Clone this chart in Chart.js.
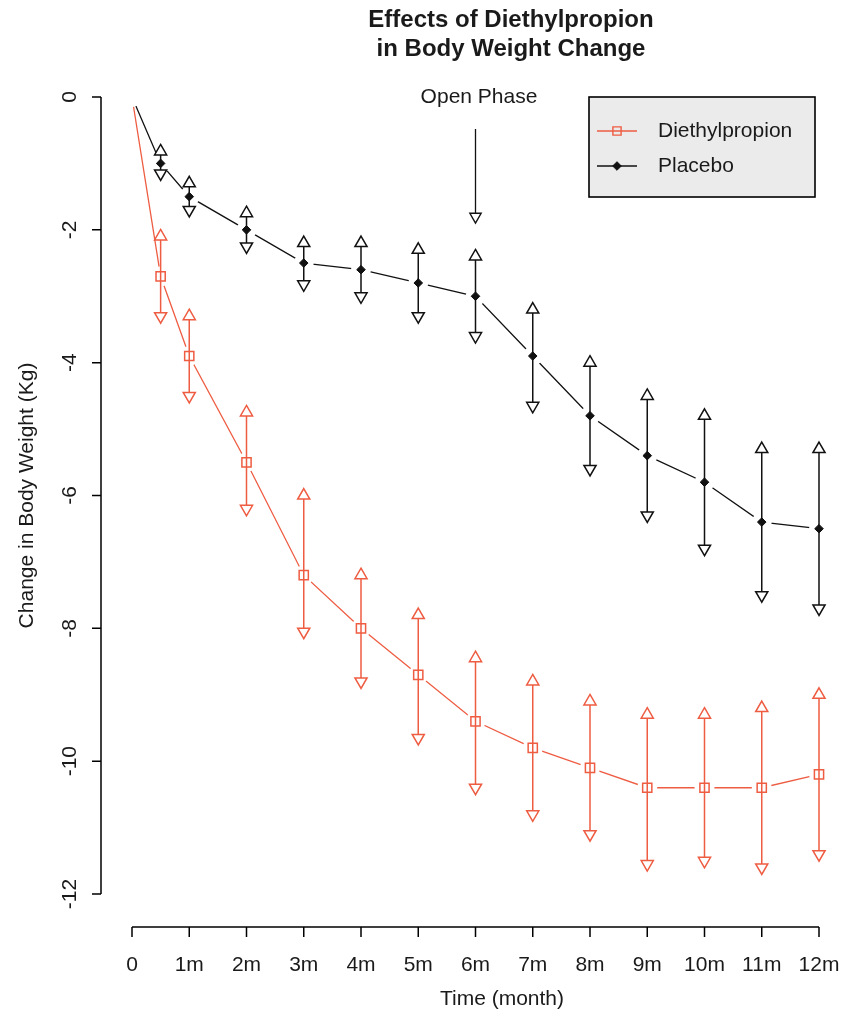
<!DOCTYPE html>
<html>
<head>
<meta charset="utf-8">
<script src="https://cdn.jsdelivr.net/npm/chart.js@4.4.1/dist/chart.umd.min.js"></script>
<style>
  html, body { margin: 0; padding: 0; background: #fff; }
  #wrap { width: 853px; height: 1013px; }
</style>
</head>
<body>
<div id="wrap"><canvas id="peso" width="853" height="1013"></canvas></div>
<script>
// datos (meses / kg)
const months = [0, 0.5, 1, 2, 3, 4, 5, 6, 7, 8, 9, 10, 11, 12];
const barMonths = [0.5, 1, 2, 3, 4, 5, 6, 7, 8, 9, 10, 11, 12];

const dietMean = [0, -2.7, -3.9, -5.5, -7.2, -8.0, -8.7, -9.4, -9.8, -10.1, -10.4, -10.4, -10.4, -10.2];
const dietHigh = [-2.1, -3.3, -4.75, -6.0, -7.2, -7.8, -8.45, -8.8, -9.1, -9.3, -9.3, -9.2, -9.0];
const dietLow = [-3.3, -4.5, -6.2, -8.05, -8.8, -9.65, -10.4, -10.8, -11.1, -11.55, -11.5, -11.6, -11.4];

const placMean = [0, -1.0, -1.5, -2.0, -2.5, -2.6, -2.8, -3.0, -3.9, -4.8, -5.4, -5.8, -6.4, -6.5];
const placHigh = [-0.82, -1.3, -1.75, -2.2, -2.2, -2.3, -2.4, -3.2, -4.0, -4.5, -4.8, -5.3, -5.3];
const placLow = [-1.15, -1.7, -2.25, -2.82, -3.0, -3.3, -3.6, -4.65, -5.6, -6.3, -6.8, -7.5, -7.7];

const openPhaseX = 6;
const openPhaseY = [-0.48, -1.8];

const xTicks = [0, 1, 2, 3, 4, 5, 6, 7, 8, 9, 10, 11, 12];
const xTickLabels = ["0", "1m", "2m", "3m", "4m", "5m", "6m", "7m", "8m", "9m", "10m", "11m", "12m"];
const yTicks = [0, -2, -4, -6, -8, -10, -12];
const yTickLabels = ["0", "-2", "-4", "-6", "-8", "-10", "-12"];

const ROJO = "#EE5C42";
const NEGRO = "#111111";
const FUENTE = "'Liberation Sans', Arial, Helvetica, sans-serif";

const pts = (xs, ys) => xs.map((x, i) => ({ x: x, y: ys[i] }));
// segmentos verticales separados por null
const barras = (xs, hi, lo) => xs.flatMap((x, i) => [{ x: x, y: hi[i] }, { x: x, y: lo[i] }, { x: x, y: null }]);

function serie(nombre, color, mean, hi, lo, marcador) {
  return [
    // linea
    { label: nombre, data: pts(months, mean), showLine: true, borderColor: color, borderWidth: 1.3, pointRadius: 0, order: 10 },
    // hueco blanco alrededor de cada punto (tipo "b" de R)
    { label: nombre + "-hueco", data: pts(months, mean), showLine: false, pointRadius: 10, pointBorderWidth: 0,
      pointBackgroundColor: "#ffffff", pointBorderColor: "#ffffff", order: 8 },
    // barras de error
    { label: nombre + "-barras", data: barras(barMonths, hi, lo), showLine: true, spanGaps: false,
      borderColor: color, borderWidth: 1.5, pointRadius: 0, order: 6 },
    // triangulos arriba
    { label: nombre + "-alto", data: pts(barMonths, hi), showLine: false, pointStyle: "triangle", pointRadius: 7,
      pointBorderWidth: 1.5, pointBorderColor: color, pointBackgroundColor: "#ffffff", order: 4 },
    // triangulos abajo
    { label: nombre + "-bajo", data: pts(barMonths, lo), showLine: false, pointStyle: "triangle", rotation: 180, pointRadius: 7,
      pointBorderWidth: 1.5, pointBorderColor: color, pointBackgroundColor: "#ffffff", order: 4 },
    // marcadores
    { label: nombre + "-marca", data: pts(barMonths, mean.slice(1)), showLine: false,
      pointStyle: marcador.estilo, pointRadius: marcador.radio, pointBorderWidth: marcador.borde,
      pointBorderColor: color, pointBackgroundColor: marcador.relleno, order: 2 },
  ];
}

const datasets = [
  ...serie("Diethylpropion", ROJO, dietMean, dietHigh, dietLow, { estilo: "rect", radio: 6.5, borde: 1.5, relleno: "rgba(0,0,0,0)" }),
  ...serie("Placebo", NEGRO, placMean, placHigh, placLow, { estilo: "rectRot", radio: 4.3, borde: 1, relleno: NEGRO }),
  // flecha "Open Phase"
  { label: "open", data: [{ x: openPhaseX, y: openPhaseY[0] }, { x: openPhaseX, y: openPhaseY[1] }], showLine: true,
    borderColor: NEGRO, borderWidth: 1.3, pointStyle: "triangle", rotation: 180, pointRadius: [0, 6.5],
    pointBorderWidth: 1.4, pointBorderColor: NEGRO, pointBackgroundColor: "#ffffff", order: 4 },
];
datasets.forEach(d => { d.clip = false; d.type = "line"; });

const ejes = {
  id: "ejes",
  afterDraw(chart) {
    const ctx = chart.ctx;
    const xs = chart.scales.x, ys = chart.scales.y;
    ctx.save();
    ctx.strokeStyle = "#000";
    ctx.fillStyle = "#1a1a1a";
    ctx.lineWidth = 1.5;

    // eje y
    const ax = 101;
    ctx.beginPath();
    ctx.moveTo(ax, ys.getPixelForValue(yTicks[0]));
    ctx.lineTo(ax, ys.getPixelForValue(yTicks[yTicks.length - 1]));
    yTicks.forEach(v => {
      const p = ys.getPixelForValue(v);
      ctx.moveTo(ax, p);
      ctx.lineTo(ax - 9, p);
    });
    ctx.stroke();
    ctx.font = "21px " + FUENTE;
    ctx.textAlign = "center";
    ctx.textBaseline = "middle";
    yTicks.forEach((v, i) => {
      ctx.save();
      ctx.translate(70, ys.getPixelForValue(v));
      ctx.rotate(-Math.PI / 2);
      ctx.fillText(yTickLabels[i], 0, 0);
      ctx.restore();
    });

    // eje x
    const ay = 927;
    ctx.beginPath();
    ctx.moveTo(xs.getPixelForValue(xTicks[0]), ay);
    ctx.lineTo(xs.getPixelForValue(xTicks[xTicks.length - 1]), ay);
    xTicks.forEach(v => {
      const p = xs.getPixelForValue(v);
      ctx.moveTo(p, ay);
      ctx.lineTo(p, ay + 10);
    });
    ctx.stroke();
    xTicks.forEach((v, i) => ctx.fillText(xTickLabels[i], xs.getPixelForValue(v), 965));

    // titulos de ejes
    ctx.fillText("Time (month)", 502, 999);
    ctx.save();
    ctx.translate(27, (ys.getPixelForValue(0) + ys.getPixelForValue(-12)) / 2);
    ctx.rotate(-Math.PI / 2);
    ctx.fillText("Change in Body Weight (Kg)", 0, 0);
    ctx.restore();

    // texto de la flecha
    ctx.fillText("Open Phase", 479, 97);

    // titulo
    ctx.font = "bold 24px " + FUENTE;
    ctx.textBaseline = "alphabetic";
    ctx.fillText("Effects of Diethylpropion", 511, 27);
    ctx.fillText("in Body Weight Change", 511, 56);

    // leyenda
    ctx.fillStyle = "#ebebeb";
    ctx.fillRect(589, 97, 226, 100);
    ctx.lineWidth = 1.6;
    ctx.strokeStyle = "#000";
    ctx.strokeRect(589, 97, 226, 100);
    const filas = [
      { texto: "Diethylpropion", color: ROJO, y: 131, estilo: "rect", radio: 5.8, relleno: "rgba(0,0,0,0)", borde: 1.4 },
      { texto: "Placebo", color: NEGRO, y: 166, estilo: "rectRot", radio: 4.3, relleno: NEGRO, borde: 1 },
    ];
    filas.forEach(f => {
      ctx.strokeStyle = f.color;
      ctx.lineWidth = 1.3;
      ctx.beginPath();
      ctx.moveTo(597, f.y);
      ctx.lineTo(637, f.y);
      ctx.stroke();
      ctx.fillStyle = f.relleno;
      ctx.lineWidth = f.borde;
      Chart.helpers.drawPoint(ctx, { pointStyle: f.estilo, radius: f.radio, rotation: 0, borderWidth: f.borde }, 617, f.y);
      ctx.fillStyle = "#1a1a1a";
      ctx.font = "21px " + FUENTE;
      ctx.textAlign = "left";
      ctx.textBaseline = "middle";
      ctx.fillText(f.texto, 658, f.y);
    });
    ctx.restore();
  }
};

new Chart(document.getElementById("peso"), {
  type: "line",
  data: { datasets: datasets },
  options: {
    responsive: false,
    animation: false,
    events: [],
    layout: { padding: { left: 132, right: 34, top: 97, bottom: 119 } },
    scales: {
      x: { type: "linear", min: 0, max: 12, display: false },
      y: { type: "linear", min: -12, max: 0, display: false },
    },
    plugins: {
      legend: { display: false },
      title: { display: false },
      tooltip: { enabled: false },
    },
  },
  plugins: [ejes],
});
</script>
</body>
</html>
